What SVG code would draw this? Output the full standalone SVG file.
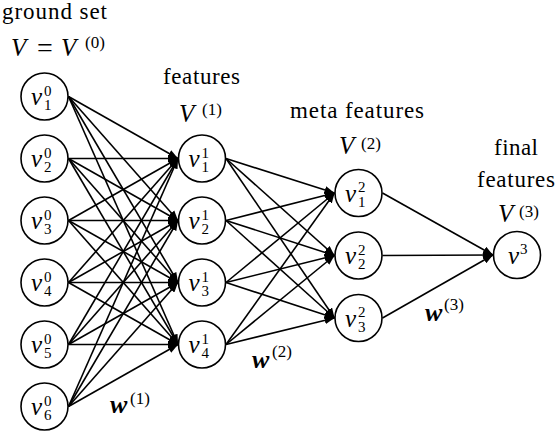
<svg xmlns="http://www.w3.org/2000/svg" width="556" height="434" viewBox="0 0 556 434">
<style>
.nd{fill:#fff;stroke:#000;stroke-width:1.6}
.e{stroke:#000;stroke-width:1.6;fill:none;marker-end:url(#ah)}
</style>
<defs>
<marker id="ah" markerUnits="userSpaceOnUse" markerWidth="10" markerHeight="8" viewBox="0 0 9 7" refX="9" refY="3.5" orient="auto">
<path d="M0,0 L9,3.5 L0,7 z" fill="#000"/>
</marker>
</defs>
<g id="labels" fill="#000">
<text font-family="Liberation Serif" font-size="23" x="2" y="19" textLength="105" lengthAdjust="spacing">ground set</text>
<text font-family="Liberation Serif" font-size="25" font-style="italic" x="11" y="56">V</text>
<text font-family="Liberation Serif" font-size="28" x="37" y="57">=</text>
<text font-family="Liberation Serif" font-size="25" font-style="italic" x="61" y="56">V</text>
<text font-family="Liberation Serif" font-size="17" x="85" y="48">(0)</text>
<text font-family="Liberation Serif" font-size="23" x="163" y="84" textLength="77" lengthAdjust="spacing">features</text>
<text font-family="Liberation Serif" font-size="25" font-style="italic" x="179" y="122">V</text>
<text font-family="Liberation Serif" font-size="17" x="202" y="115">(1)</text>
<text font-family="Liberation Serif" font-size="23" x="290" y="118" textLength="134" lengthAdjust="spacing">meta features</text>
<text font-family="Liberation Serif" font-size="25" font-style="italic" x="339" y="154">V</text>
<text font-family="Liberation Serif" font-size="17" x="361" y="149">(2)</text>
<text font-family="Liberation Serif" font-size="23" x="494" y="155" textLength="44" lengthAdjust="spacing">final</text>
<text font-family="Liberation Serif" font-size="23" x="477" y="187" textLength="78" lengthAdjust="spacing">features</text>
<text font-family="Liberation Serif" font-size="25" font-style="italic" x="498" y="222">V</text>
<text font-family="Liberation Serif" font-size="17" x="519" y="217">(3)</text>
<text font-family="Liberation Serif" font-size="26" font-style="italic" font-weight="bold" x="110" y="413">w</text>
<text font-family="Liberation Serif" font-size="17" x="130" y="404">(1)</text>
<text font-family="Liberation Serif" font-size="26" font-style="italic" font-weight="bold" x="252" y="368">w</text>
<text font-family="Liberation Serif" font-size="17" x="272" y="357">(2)</text>
<text font-family="Liberation Serif" font-size="26" font-style="italic" font-weight="bold" x="425" y="321">w</text>
<text font-family="Liberation Serif" font-size="17" x="444" y="310">(3)</text>
</g>
<g id="connectors">
<line class="e" x1="68.5" y1="96.5" x2="178" y2="158.5"/>
<line class="e" x1="68.5" y1="96.5" x2="178" y2="220.5"/>
<line class="e" x1="68.5" y1="96.5" x2="178" y2="282.5"/>
<line class="e" x1="68.5" y1="96.5" x2="178" y2="344.5"/>
<line class="e" x1="68.5" y1="158.5" x2="178" y2="158.5"/>
<line class="e" x1="68.5" y1="158.5" x2="178" y2="220.5"/>
<line class="e" x1="68.5" y1="158.5" x2="178" y2="282.5"/>
<line class="e" x1="68.5" y1="158.5" x2="178" y2="344.5"/>
<line class="e" x1="68.5" y1="220.5" x2="178" y2="158.5"/>
<line class="e" x1="68.5" y1="220.5" x2="178" y2="220.5"/>
<line class="e" x1="68.5" y1="220.5" x2="178" y2="282.5"/>
<line class="e" x1="68.5" y1="220.5" x2="178" y2="344.5"/>
<line class="e" x1="68.5" y1="282.5" x2="178" y2="158.5"/>
<line class="e" x1="68.5" y1="282.5" x2="178" y2="220.5"/>
<line class="e" x1="68.5" y1="282.5" x2="178" y2="282.5"/>
<line class="e" x1="68.5" y1="282.5" x2="178" y2="344.5"/>
<line class="e" x1="68.5" y1="344.5" x2="178" y2="158.5"/>
<line class="e" x1="68.5" y1="344.5" x2="178" y2="220.5"/>
<line class="e" x1="68.5" y1="344.5" x2="178" y2="282.5"/>
<line class="e" x1="68.5" y1="344.5" x2="178" y2="344.5"/>
<line class="e" x1="68.5" y1="406.5" x2="178" y2="158.5"/>
<line class="e" x1="68.5" y1="406.5" x2="178" y2="220.5"/>
<line class="e" x1="68.5" y1="406.5" x2="178" y2="282.5"/>
<line class="e" x1="68.5" y1="406.5" x2="178" y2="344.5"/>
<line class="e" x1="226" y1="158.5" x2="334.5" y2="193"/>
<line class="e" x1="226" y1="158.5" x2="334.5" y2="255.5"/>
<line class="e" x1="226" y1="158.5" x2="334.5" y2="318"/>
<line class="e" x1="226" y1="220.5" x2="334.5" y2="193"/>
<line class="e" x1="226" y1="220.5" x2="334.5" y2="255.5"/>
<line class="e" x1="226" y1="220.5" x2="334.5" y2="318"/>
<line class="e" x1="226" y1="282.5" x2="334.5" y2="193"/>
<line class="e" x1="226" y1="282.5" x2="334.5" y2="255.5"/>
<line class="e" x1="226" y1="282.5" x2="334.5" y2="318"/>
<line class="e" x1="226" y1="344.5" x2="334.5" y2="193"/>
<line class="e" x1="226" y1="344.5" x2="334.5" y2="255.5"/>
<line class="e" x1="226" y1="344.5" x2="334.5" y2="318"/>
<line class="e" x1="382.5" y1="193" x2="493" y2="255"/>
<line class="e" x1="382.5" y1="255.5" x2="493" y2="255"/>
<line class="e" x1="382.5" y1="318" x2="493" y2="255"/>
</g>
<g id="nodes" fill="#000">
<g id="v0_1"><circle class="nd" cx="44.5" cy="96.5" r="23.5"/><text font-family="Liberation Serif" font-size="25" font-style="italic" x="31" y="105">v</text><text font-family="Liberation Serif" font-size="15" x="44" y="95.5">0</text><text font-family="Liberation Serif" font-size="15" x="44" y="110">1</text></g>
<g id="v0_2"><circle class="nd" cx="44.5" cy="158.5" r="23.5"/><text font-family="Liberation Serif" font-size="25" font-style="italic" x="31" y="167">v</text><text font-family="Liberation Serif" font-size="15" x="44" y="157.5">0</text><text font-family="Liberation Serif" font-size="15" x="44" y="172">2</text></g>
<g id="v0_3"><circle class="nd" cx="44.5" cy="220.5" r="23.5"/><text font-family="Liberation Serif" font-size="25" font-style="italic" x="31" y="229">v</text><text font-family="Liberation Serif" font-size="15" x="44" y="219.5">0</text><text font-family="Liberation Serif" font-size="15" x="44" y="234">3</text></g>
<g id="v0_4"><circle class="nd" cx="44.5" cy="282.5" r="23.5"/><text font-family="Liberation Serif" font-size="25" font-style="italic" x="31" y="291">v</text><text font-family="Liberation Serif" font-size="15" x="44" y="281.5">0</text><text font-family="Liberation Serif" font-size="15" x="44" y="296">4</text></g>
<g id="v0_5"><circle class="nd" cx="44.5" cy="344.5" r="23.5"/><text font-family="Liberation Serif" font-size="25" font-style="italic" x="31" y="353">v</text><text font-family="Liberation Serif" font-size="15" x="44" y="343.5">0</text><text font-family="Liberation Serif" font-size="15" x="44" y="358">5</text></g>
<g id="v0_6"><circle class="nd" cx="44.5" cy="406.5" r="23.5"/><text font-family="Liberation Serif" font-size="25" font-style="italic" x="31" y="415">v</text><text font-family="Liberation Serif" font-size="15" x="44" y="405.5">0</text><text font-family="Liberation Serif" font-size="15" x="44" y="420">6</text></g>
<g id="v1_1"><circle class="nd" cx="202" cy="158.5" r="23.5"/><text font-family="Liberation Serif" font-size="25" font-style="italic" x="188.5" y="167">v</text><text font-family="Liberation Serif" font-size="15" x="201.5" y="157.5">1</text><text font-family="Liberation Serif" font-size="15" x="201.5" y="172">1</text></g>
<g id="v1_2"><circle class="nd" cx="202" cy="220.5" r="23.5"/><text font-family="Liberation Serif" font-size="25" font-style="italic" x="188.5" y="229">v</text><text font-family="Liberation Serif" font-size="15" x="201.5" y="219.5">1</text><text font-family="Liberation Serif" font-size="15" x="201.5" y="234">2</text></g>
<g id="v1_3"><circle class="nd" cx="202" cy="282.5" r="23.5"/><text font-family="Liberation Serif" font-size="25" font-style="italic" x="188.5" y="291">v</text><text font-family="Liberation Serif" font-size="15" x="201.5" y="281.5">1</text><text font-family="Liberation Serif" font-size="15" x="201.5" y="296">3</text></g>
<g id="v1_4"><circle class="nd" cx="202" cy="344.5" r="23.5"/><text font-family="Liberation Serif" font-size="25" font-style="italic" x="188.5" y="353">v</text><text font-family="Liberation Serif" font-size="15" x="201.5" y="343.5">1</text><text font-family="Liberation Serif" font-size="15" x="201.5" y="358">4</text></g>
<g id="v2_1"><circle class="nd" cx="358.5" cy="193" r="23.5"/><text font-family="Liberation Serif" font-size="25" font-style="italic" x="345" y="201.5">v</text><text font-family="Liberation Serif" font-size="15" x="358" y="192">2</text><text font-family="Liberation Serif" font-size="15" x="358" y="206.5">1</text></g>
<g id="v2_2"><circle class="nd" cx="358.5" cy="255.5" r="23.5"/><text font-family="Liberation Serif" font-size="25" font-style="italic" x="345" y="264">v</text><text font-family="Liberation Serif" font-size="15" x="358" y="254.5">2</text><text font-family="Liberation Serif" font-size="15" x="358" y="269">2</text></g>
<g id="v2_3"><circle class="nd" cx="358.5" cy="318" r="23.5"/><text font-family="Liberation Serif" font-size="25" font-style="italic" x="345" y="326.5">v</text><text font-family="Liberation Serif" font-size="15" x="358" y="317">2</text><text font-family="Liberation Serif" font-size="15" x="358" y="331.5">3</text></g>
<g id="v3"><circle class="nd" cx="517" cy="255" r="23.5"/><text font-family="Liberation Serif" font-size="25" font-style="italic" x="508" y="263.5">v</text><text font-family="Liberation Serif" font-size="15" x="520" y="254">3</text></g>
</g>
</svg>
